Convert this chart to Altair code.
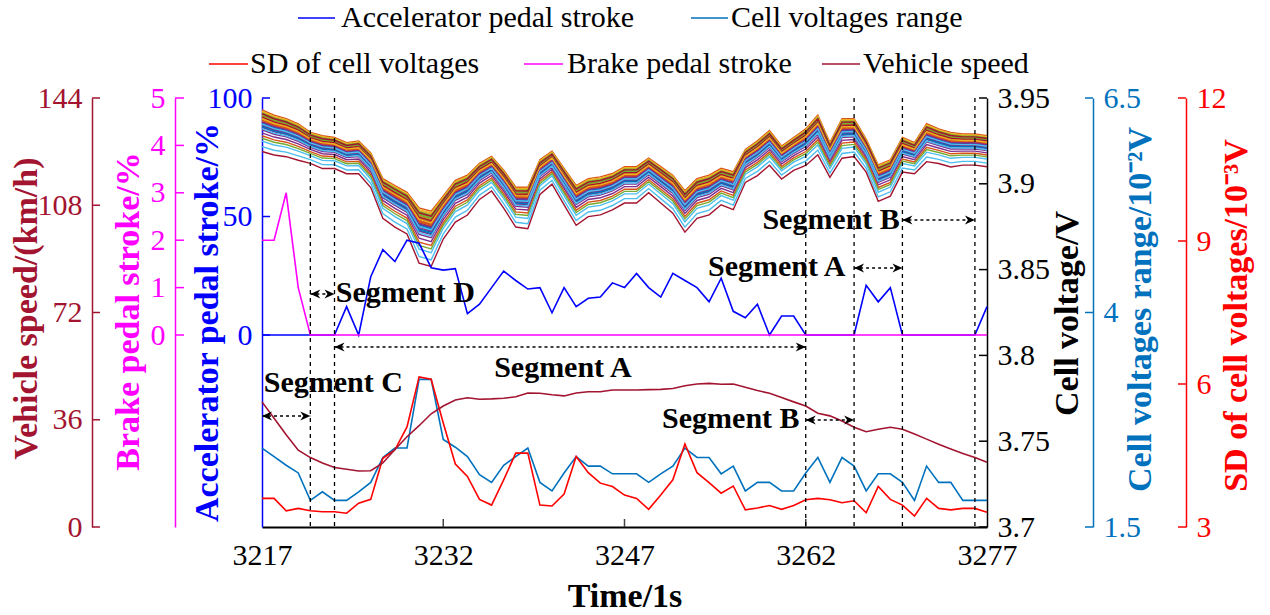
import altair as alt
import pandas as pd

# ---- data (1 s samples) ----
time_s = list(range(3217, 3278))

vehicle_speed = [42.0, 36.5, 31.0, 25.8, 23.3, 21.5, 20.0, 19.4, 18.8, 18.9,
                 21.5, 26.0, 30.3, 34.0, 38.0, 40.6, 42.6, 43.4, 42.9, 43.0,
                 43.2, 43.7, 45.0, 44.9, 44.4, 44.0, 45.0, 45.4, 45.4, 46.0,
                 46.0, 46.0, 46.1, 46.2, 46.5, 47.4, 48.0, 48.2, 47.9, 48.0,
                 46.9, 45.8, 44.9, 43.5, 42.0, 40.6, 38.2, 37.3, 35.6, 33.5,
                 32.0, 32.8, 33.5, 32.8, 31.2, 29.5, 27.8, 26.2, 24.7, 23.3, 21.7]

brake_stroke = [2, 2, 3, 1, 0, 0, 0, 0, 0, 0,
                0, 0, 0, 0, 0, 0, 0, 0, 0, 0,
                0, 0, 0, 0, 0, 0, 0, 0, 0, 0,
                0, 0, 0, 0, 0, 0, 0, 0, 0, 0,
                0, 0, 0, 0, 0, 0, 0, 0, 0, 0,
                0, 0, 0, 0, 0, 0, 0, 0, 0, 0, 0]

accel_stroke = [0, 0, 0, 0, 0, 0, 0, 12, 0, 24.6,
                36, 31, 40, 38.7, 28.4, 27.4, 28, 9, 13, 20,
                27, 23, 19.4, 20, 9.4, 20, 12, 15.5, 16, 22,
                20, 26, 20, 16, 26, 23, 20, 14, 24, 10,
                7.3, 13, 0, 8, 8, 0, 0, 0, 0, 0,
                21, 14, 20, 0, 0, 0, 0, 0, 0, 0, 12]

# max - min of cell voltages, 10^-2 V
cell_range = [2.42, 2.32, 2.22, 2.13, 1.81, 1.91, 1.81, 1.81, 1.91, 2.02,
              2.31, 2.42, 2.42, 3.22, 3.22, 2.52, 2.43, 2.32, 2.11, 2.02,
              2.22, 2.32, 2.42, 2.02, 1.92, 2.13, 2.32, 2.21, 2.21, 2.12,
              2.12, 2.12, 2.02, 2.12, 2.21, 2.42, 2.31, 2.31, 2.12, 2.21,
              1.92, 2.02, 2.02, 1.92, 1.92, 2.13, 2.31, 2.02, 2.31, 2.21,
              1.92, 2.12, 2.12, 2.02, 1.81, 2.21, 2.02, 2.02, 1.81, 1.81, 1.81]

# standard deviation of cell voltages, 10^-3 V
cell_sd = [3.60, 3.60, 3.34, 3.39, 3.34, 3.32, 3.32, 3.29, 3.50, 3.58,
           4.44, 4.62, 5.10, 6.15, 6.10, 5.18, 4.32, 4.06, 3.58, 3.46,
           3.99, 4.55, 4.55, 3.46, 3.44, 3.69, 4.48, 4.14, 3.92, 3.85,
           3.67, 3.60, 3.37, 3.67, 3.99, 4.74, 4.14, 3.93, 3.71, 3.86,
           3.36, 3.40, 3.45, 3.37, 3.45, 3.57, 3.60, 3.57, 3.51, 3.55,
           3.30, 3.85, 3.58, 3.46, 3.23, 3.60, 3.39, 3.36, 3.39, 3.39, 3.31]

# highest cell voltage, V
cell_max = [3.943, 3.940, 3.938, 3.935, 3.930, 3.928, 3.927, 3.924, 3.925, 3.918,
            3.903, 3.899, 3.895, 3.886, 3.884, 3.893, 3.902, 3.905, 3.912, 3.916,
            3.908, 3.898, 3.898, 3.914, 3.919, 3.909, 3.899, 3.903, 3.904, 3.906,
            3.910, 3.910, 3.915, 3.910, 3.905, 3.896, 3.903, 3.905, 3.909, 3.907,
            3.920, 3.925, 3.931, 3.922, 3.927, 3.932, 3.940, 3.924, 3.938, 3.938,
            3.926, 3.911, 3.914, 3.927, 3.924, 3.935, 3.932, 3.930, 3.929, 3.929, 3.928]

# position of each cell below the highest one, as a share of the voltage range
cell_depth = [0.30, 0.00, 0.05, 0.55, 0.10, 0.88, 1.00, 0.35, 0.62, 0.08,
              0.42, 0.68, 0.75, 0.20, 0.25, 0.15, 0.12, 0.33, 0.18, 0.28,
              0.22, 0.38, 0.20, 0.16, 0.48, 0.13, 0.32, 0.27, 0.40, 0.24,
              0.03, 0.36, 0.07, 0.45, 0.17, 0.31, 0.26, 0.21, 0.29, 0.11,
              0.34, 0.09]

segment_bounds = [3221, 3223, 3262, 3266, 3270, 3276]

# ---- style ----
FONT = "Liberation Serif"
W, H = 725, 429
MATLAB = ["#0072BD", "#D95319", "#EDB120", "#7E2F8E", "#77AC30", "#4DBEEE", "#A2142F"]
C_SPEED, C_BRAKE, C_ACC = "#A2142F", "#FF00FF", "#0000FF"
C_RANGE, C_SD, C_VOLT = "#0072BD", "#FF0000", "#000000"

series = pd.DataFrame({
    "t": time_s, "speed": vehicle_speed, "brake": brake_stroke,
    "acc": accel_stroke, "range": cell_range, "sd": cell_sd,
})

cells = pd.DataFrame([
    {"t": t, "cell": f"c{i:02d}", "volt": vmax - d * r / 100.0}
    for i, d in enumerate(cell_depth)
    for t, vmax, r in zip(time_s, cell_max, cell_range)
])

X = alt.X(
    "t:Q",
    scale=alt.Scale(domain=[3217, 3277], nice=False, zero=False),
    axis=alt.Axis(
        values=[3217, 3232, 3247, 3262, 3277], format="d", title="Time/1s",
        grid=False, tickSize=0, labelFont=FONT, labelFontSize=30, labelColor="black",
        labelPadding=28, labelBaseline="middle", labelFlush=False, labelOverlap=False,
        domainColor="black", domainWidth=2, titleFont=FONT, titleFontSize=34,
        titleFontWeight="bold", titleColor="black", titleY=79, titleBaseline="alphabetic",
    ),
)


def y_axis(orient, offset, values, color, title, tx, ty, fmt):
    return alt.Axis(
        orient=orient, offset=offset, values=values, format=fmt, title=title, grid=False,
        tickSize=0, domainColor=color, domainWidth=1.5, labelColor=color, labelFont=FONT,
        labelFontSize=30, labelPadding=10, labelOverlap=False, labelFlush=False,
        titleColor=color, titleFont=FONT, titleFontSize=34, titleFontWeight="bold",
        titleAngle=270, titleAlign="center", titleBaseline="middle", titleX=tx, titleY=ty,
    )


def inward_ticks(field, values, ydef, color, x0, x1):
    return alt.Chart(pd.DataFrame({field: values})).mark_rule(
        color=color, strokeWidth=1.5
    ).encode(x=alt.value(x0), x2=alt.value(x1), y=ydef)


# cell voltages (right axis, black)
volt_ticks = [3.7, 3.75, 3.8, 3.85, 3.9, 3.95]
Y_VOLT = alt.Y("volt:Q", scale=alt.Scale(domain=[3.7, 3.95], nice=False, zero=False),
               axis=y_axis("right", 0, volt_ticks, C_VOLT, "Cell voltage/V", 80, 215, ".2~f"))
volt_layer = alt.layer(
    alt.Chart(cells).mark_line(strokeWidth=1.4).encode(
        x=X, y=Y_VOLT,
        color=alt.Color("cell:N", scale=alt.Scale(range=MATLAB), legend=None),
    ),
    inward_ticks("volt", volt_ticks, Y_VOLT, C_VOLT, W - 8, W),
)

# cell voltage range
range_ticks = [1.5, 4, 6.5]
Y_RANGE = alt.Y("range:Q", scale=alt.Scale(domain=[1.5, 6.5], nice=False, zero=False),
                axis=y_axis("right", 106, range_ticks, C_RANGE,
                            "Cell voltages range/10⁻²V", 47, 211, ".1~f"))
range_layer = alt.layer(
    alt.Chart(series).mark_line(color=C_RANGE, strokeWidth=1.6).encode(x=X, y=Y_RANGE),
    inward_ticks("range", range_ticks, Y_RANGE, C_RANGE, W + 98, W + 106),
)

# SD of cell voltages
sd_ticks = [3, 6, 9, 12]
Y_SD = alt.Y("sd:Q", scale=alt.Scale(domain=[3, 12], nice=False, zero=False),
             axis=y_axis("right", 199, sd_ticks, C_SD,
                         "SD of cell voltages/10⁻³V", 50, 217, "d"))
sd_layer = alt.layer(
    alt.Chart(series).mark_line(color=C_SD, strokeWidth=1.6).encode(x=X, y=Y_SD),
    inward_ticks("sd", sd_ticks, Y_SD, C_SD, W + 191, W + 199),
)

# accelerator pedal stroke
acc_ticks = [0, 50, 100]
Y_ACC = alt.Y("acc:Q", scale=alt.Scale(domain=[-81, 100], nice=False, zero=False),
              axis=y_axis("left", 0, acc_ticks, C_ACC,
                          "Accelerator pedal stroke/%", -55, 224, "d"))
acc_layer = alt.layer(
    alt.Chart(series).mark_line(color=C_ACC, strokeWidth=1.6).encode(x=X, y=Y_ACC),
    inward_ticks("acc", acc_ticks, Y_ACC, C_ACC, 0, 8),
)

# brake pedal stroke
brake_ticks = [0, 1, 2, 3, 4, 5]
Y_BRAKE = alt.Y("brake:Q", scale=alt.Scale(domain=[-4.05, 5], nice=False, zero=False),
                axis=y_axis("left", 87, brake_ticks, C_BRAKE,
                            "Brake pedal stroke/%", -47, 213, "d"))
brake_layer = alt.layer(
    alt.Chart(series).mark_line(color=C_BRAKE, strokeWidth=1.6).encode(x=X, y=Y_BRAKE),
    inward_ticks("brake", brake_ticks, Y_BRAKE, C_BRAKE, -87, -78),
)

# vehicle speed
speed_ticks = [0, 36, 72, 108, 144]
Y_SPEED = alt.Y("speed:Q", scale=alt.Scale(domain=[0, 144], nice=False, zero=False),
                axis=y_axis("left", 170, speed_ticks, C_SPEED,
                            "Vehicle speed/(km/h)", -66, 210, "d"))
speed_layer = alt.layer(
    alt.Chart(series).mark_line(color=C_SPEED, strokeWidth=1.6).encode(x=X, y=Y_SPEED),
    inward_ticks("speed", speed_ticks, Y_SPEED, C_SPEED, -170, -162),
)

# ---- annotations ----
x_ticks = alt.Chart(pd.DataFrame({"t": [3232, 3247, 3262]})).mark_rule(
    color="#444444", strokeWidth=1.5
).encode(x=X, y=alt.value(H - 8), y2=alt.value(H))

bounds = alt.Chart(pd.DataFrame({"t": segment_bounds})).mark_rule(
    color="black", strokeWidth=1.3, strokeDash=[4, 4]
).encode(x=X)

HEAD_R = "M0,0 L-1,-0.45 L-0.7,0 L-1,0.45 Z"
HEAD_L = "M0,0 L1,-0.45 L0.7,0 L1,0.45 Z"
arrow_spans = [(3217, 3221, 318), (3221, 3223, 196), (3223, 3262, 249),
               (3262, 3266, 322), (3266, 3270, 170), (3270, 3276, 122)]
arrow_layers = []
for a, b, yp in arrow_spans:
    span = pd.DataFrame({"t": [a], "t2": [b]})
    arrow_layers.append(
        alt.Chart(span).mark_rule(color="black", strokeWidth=1.5, strokeDash=[3, 3])
        .encode(x=X, x2="t2:Q", y=alt.value(yp))
    )
    arrow_layers.append(
        alt.Chart(pd.DataFrame({"t": [a]})).mark_point(
            shape=HEAD_L, size=400, filled=True, color="black", opacity=1
        ).encode(x=X, y=alt.value(yp))
    )
    arrow_layers.append(
        alt.Chart(pd.DataFrame({"t": [b]})).mark_point(
            shape=HEAD_R, size=400, filled=True, color="black", opacity=1
        ).encode(x=X, y=alt.value(yp))
    )

segment_labels = [("Segment D", 3223.1, 195, "left"), ("Segment A", 3241.9, 270, "center"),
                  ("Segment C", 3222.9, 285, "center"), ("Segment B", 3255.8, 321, "center"),
                  ("Segment A", 3259.6, 169, "center"), ("Segment B", 3264.1, 122, "center")]
label_layers = [
    alt.Chart(pd.DataFrame({"t": [tx], "label": [txt]})).mark_text(
        font=FONT, fontSize=30, fontWeight="bold", color="black", align=al, baseline="middle"
    ).encode(x=X, y=alt.value(yp), text="label:N")
    for txt, tx, yp, al in segment_labels
]

# legend, two rows above the plot
legend_items = [("Accelerator pedal stroke", C_ACC, 36, 73, 79, -80),
                ("Cell voltages range", C_RANGE, 429, 466, 469, -80),
                ("SD of cell voltages", C_SD, -53, -14, -12, -34),
                ("Brake pedal stroke", C_BRAKE, 262, 301, 305, -34),
                ("Vehicle speed", C_SPEED, 560, 598, 601, -34)]
legend_layers = []
for txt, col, x0, x1, xt, yp in legend_items:
    legend_layers.append(
        alt.Chart(pd.DataFrame({"k": [0]})).mark_rule(color=col, strokeWidth=1.5)
        .encode(x=alt.value(x0), x2=alt.value(x1), y=alt.value(yp))
    )
    legend_layers.append(
        alt.Chart(pd.DataFrame({"label": [txt]})).mark_text(
            font=FONT, fontSize=30, color="black", align="left", baseline="middle"
        ).encode(x=alt.value(xt), y=alt.value(yp), text="label:N")
    )

chart = alt.layer(
    volt_layer, range_layer, sd_layer, acc_layer, brake_layer, speed_layer,
    x_ticks, bounds, *arrow_layers, *label_layers, *legend_layers,
).resolve_scale(
    y="independent"
).properties(
    width=W, height=H,
    autosize=alt.AutoSizeParams(type="none"),
    padding={"left": 262, "top": 98, "right": 283, "bottom": 88},
    background="white",
).configure_view(
    stroke=None
).configure_axis(
    labelFont=FONT, titleFont=FONT, titleFontWeight="bold", titleFontSize=34, labelFontSize=30
).configure_text(
    font=FONT
)

chart.save("out.html", embed_options={"renderer": "svg", "actions": False})
